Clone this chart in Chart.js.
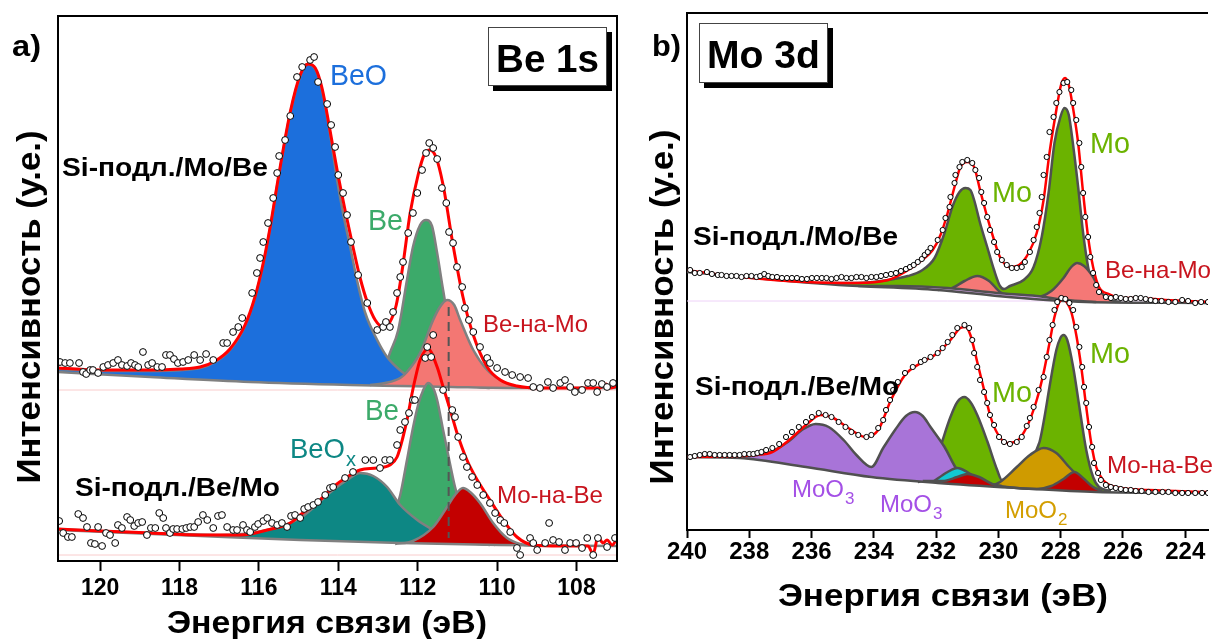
<!DOCTYPE html>
<html>
<head>
<meta charset="utf-8">
<script src="https://cdn.jsdelivr.net/npm/chart.js@4.4.0/dist/chart.umd.min.js"></script>
<style>
  body { margin: 0; background: #fff; }
  canvas { position: absolute; top: 0; }
  #beChart { left: 0; }
  #moChart { left: 640px; }
</style>
</head>
<body>
<canvas id="beChart" width="640" height="639"></canvas>
<canvas id="moChart" width="573" height="639"></canvas>
<script>
const FONT = 'Arial, "Liberation Sans", sans-serif';

// ---------- a) Be 1s : [binding energy eV, intensity a.u.] ----------
const beTicks = [120, 118, 116, 114, 112, 110, 108];

const beTopBg = [[121.06,189],[118.74,184],[116.22,179],[113.70,176],[112.44,175],[111.18,174],[109.42,173],[106.98,173]];
const beTopBeO = [[121.06,192],[120.00,190],[118.74,190],[117.48,193],[117.10,199],[116.73,211],[116.35,235],[116.10,263],[115.89,297],[115.72,332],[115.52,380],[115.21,448],[114.96,485],[114.79,497],[114.58,492],[114.41,471],[114.21,428],[114.03,381],[113.88,348],[113.70,314],[113.53,281],[113.32,248],[113.02,221],[112.77,204],[112.39,189],[112.07,181],[111.69,177],[111.18,174]];
const beTopBe = [[113.20,176],[112.95,180],[112.70,208],[112.49,231],[112.27,281],[112.12,314],[111.94,336],[111.79,341],[111.64,335],[111.51,308],[111.36,271],[111.18,231],[110.98,201],[110.78,183],[110.55,175],[110.18,173]];
const beTopBeMo = [[113.20,176],[112.82,178],[112.44,183],[112.27,189],[111.94,208],[111.61,241],[111.44,254],[111.26,261],[111.08,256],[110.93,241],[110.60,211],[110.25,191],[109.92,181],[109.60,175],[109.17,173]];
const beTopFit = [[121.06,193],[120.00,191],[118.74,191],[117.98,192],[117.48,194],[117.10,200],[116.73,212],[116.35,236],[116.10,264],[115.89,298],[115.72,333],[115.52,381],[115.21,449],[114.96,486],[114.76,497],[114.58,493],[114.41,473],[114.21,431],[114.03,391],[113.83,351],[113.63,314],[113.45,283],[113.27,259],[113.07,241],[112.87,234],[112.70,239],[112.54,256],[112.39,291],[112.19,348],[111.99,386],[111.84,406],[111.69,411],[111.54,404],[111.36,376],[111.11,316],[110.86,264],[110.60,226],[110.25,194],[109.92,181],[109.50,175],[108.92,173],[107.66,173],[107.41,173],[107.25,177],[107.15,173],[106.98,175]];
const beTopPts = [[121.01,199],[120.88,198],[120.76,198],[120.53,198],[120.43,189],[120.35,187],[120.25,191],[120.18,191],[120.05,188],[119.92,194],[119.80,196],[119.67,198],[119.55,201],[119.45,196],[119.32,195],[119.22,198],[119.12,196],[119.04,194],[118.92,209],[118.79,196],[118.69,198],[118.56,194],[118.44,194],[118.34,206],[118.24,206],[118.14,202],[118.04,198],[117.91,199],[117.78,201],[117.63,206],[117.48,201],[117.33,207],[117.15,201],[116.90,218],[116.80,218],[116.65,229],[116.52,234],[116.42,243],[116.17,268],[116.05,288],[115.97,303],[115.89,319],[115.77,338],[115.64,363],[115.54,388],[115.49,405],[115.34,421],[115.21,445],[115.04,484],[114.91,494],[114.71,501],[114.61,504],[114.51,479],[114.28,457],[114.18,436],[114.08,414],[114.00,386],[113.88,368],[113.78,346],[113.68,319],[113.50,286],[113.27,258],[113.02,231],[112.87,234],[112.80,239],[112.70,234],[112.62,249],[112.52,268],[112.44,284],[112.37,299],[112.24,328],[112.12,348],[112.01,368],[111.89,391],[111.79,408],[111.71,418],[111.61,413],[111.51,402],[111.39,373],[111.28,358],[111.21,329],[111.11,318],[111.01,294],[110.88,274],[110.81,253],[110.71,241],[110.60,229],[110.43,214],[110.25,203],[110.18,198],[110.00,193],[109.80,189],[109.62,186],[109.42,184],[109.22,183],[109.09,174],[108.92,173],[108.72,179],[108.59,173],[108.41,178],[108.29,181],[108.16,174],[108.04,169],[107.86,171],[107.71,178],[107.58,178],[107.48,169],[107.36,177],[107.23,174],[107.08,178]];

const beBotBg = [[121.06,31],[117.48,25],[114.96,21],[112.44,18],[109.92,16],[106.98,15]];
const beBotBeOx = [[121.06,32],[118.74,28],[116.98,26],[115.79,31],[114.96,43],[114.13,71],[113.78,81],[113.45,88],[113.12,85],[112.77,74],[112.44,56],[112.01,41],[111.61,31],[111.18,22],[110.68,18],[110.18,16]];
const beBotBe = [[113.20,19],[112.87,26],[112.64,41],[112.44,66],[112.27,101],[112.12,133],[111.99,156],[111.86,171],[111.74,178],[111.61,173],[111.51,161],[111.36,131],[111.18,96],[111.06,74],[110.88,51],[110.68,31],[110.43,21],[110.05,16]];
const beBotMoBe = [[112.57,17],[112.12,20],[111.61,34],[111.26,54],[111.06,66],[110.86,73],[110.68,69],[110.43,58],[110.10,38],[109.75,23],[109.42,17],[109.04,15]];
const beBotFit = [[121.06,32],[120.00,30],[118.74,28],[117.48,26],[116.47,26],[115.79,31],[115.21,38],[114.96,46],[114.46,61],[114.13,74],[113.78,84],[113.45,91],[113.02,93],[112.70,96],[112.52,104],[112.37,124],[112.27,141],[112.14,168],[112.07,181],[111.94,201],[111.74,212],[111.51,194],[111.36,174],[111.18,151],[111.01,128],[110.76,101],[110.50,81],[110.18,61],[109.85,41],[109.50,24],[109.09,16],[108.41,15],[107.71,15],[107.58,7],[107.46,24],[107.33,18],[107.23,21],[107.10,16],[106.98,23]];
const beBotPts = [[121.03,40],[120.93,28],[120.81,24],[120.71,24],[120.55,47],[120.43,43],[120.33,34],[120.23,18],[120.13,17],[120.05,34],[119.95,15],[119.85,28],[119.75,26],[119.62,18],[119.55,36],[119.45,33],[119.32,44],[119.24,41],[119.14,35],[119.04,38],[118.94,39],[118.82,26],[118.72,33],[118.61,33],[118.51,48],[118.41,43],[118.34,33],[118.24,28],[118.16,32],[118.06,32],[117.93,32],[117.83,33],[117.73,34],[117.63,34],[117.53,39],[117.41,46],[117.30,41],[117.15,33],[117.03,45],[116.93,46],[116.80,34],[116.65,31],[116.55,31],[116.40,36],[116.30,31],[116.22,29],[116.10,34],[116.02,37],[115.89,40],[115.79,43],[115.67,38],[115.54,36],[115.42,38],[115.29,34],[115.19,45],[115.09,46],[114.96,43],[114.86,52],[114.76,54],[114.63,56],[114.51,59],[114.33,66],[114.21,73],[114.13,74],[113.83,83],[113.63,89],[113.32,101],[113.12,101],[112.95,93],[112.82,101],[112.70,101],[112.52,116],[112.44,131],[112.32,139],[112.22,148],[112.12,161],[112.07,161],[111.81,203],[111.76,214],[111.66,204],[111.61,226],[111.36,171],[111.13,151],[111.06,144],[110.98,124],[110.86,104],[110.76,94],[110.63,84],[110.50,76],[110.35,66],[110.18,58],[110.05,48],[109.92,41],[109.82,38],[109.67,29],[109.50,13],[109.42,6],[109.17,23],[109.09,18],[108.99,11],[108.79,18],[108.69,38],[108.59,21],[108.44,19],[108.29,11],[108.16,18],[108.01,18],[107.86,13],[107.73,23],[107.58,6],[107.46,23],[107.23,14],[107.03,23]];

const beDash = [[111.22,254],[111.22,23]];
const beZero = [171, 6];

// ---------- b) Mo 3d ----------
const moTicks = [240, 238, 236, 234, 232, 230, 228, 226, 224];

const moTopBg = [[240.00,258],[235.13,245],[231.95,240],[230.04,234],[228.45,230],[227.18,228],[223.27,227]];
const moTopLilac = [[234.50,244],[233.23,244],[231.63,242],[230.04,237],[228.77,234],[227.82,230],[226.86,228]];
const moTopMo = [[235.77,247],[234.50,247],[233.54,250],[232.91,254],[232.49,259],[232.05,272],[231.73,297],[231.48,323],[231.25,338],[231.06,342],[230.90,340],[230.78,330],[230.59,307],[230.36,283],[230.14,260],[229.95,244],[229.82,241],[229.63,244],[229.19,250],[228.87,263],[228.61,293],[228.39,337],[228.20,387],[228.01,413],[227.88,422],[227.74,415],[227.61,387],[227.44,343],[227.28,297],[227.12,263],[226.96,243],[226.64,233],[226.23,228]];
const moTopBeMo = [[231.95,240],[231.48,242],[231.09,249],[230.68,254],[230.30,249],[229.95,238],[229.73,235],[228.77,233],[228.30,239],[227.91,252],[227.66,263],[227.47,267],[227.25,264],[226.96,253],[226.71,238],[226.39,230],[226.07,228]];
const moTopFit = [[240.00,260],[239.59,258],[238.31,253],[236.18,248],[234.59,247],[233.54,250],[233.00,258],[232.49,269],[232.11,280],[231.86,295],[231.63,317],[231.41,343],[231.22,363],[231.00,368],[230.78,363],[230.59,340],[230.36,313],[230.14,290],[229.95,273],[229.63,263],[229.34,265],[229.03,277],[228.77,297],[228.55,330],[228.36,377],[228.14,420],[227.99,445],[227.86,452],[227.74,445],[227.61,423],[227.44,387],[227.28,337],[227.12,293],[226.96,263],[226.77,243],[226.45,236],[226.01,232],[225.59,232],[224.64,230],[223.27,228]];
const moTopPts = [[239.90,260],[239.75,257],[239.59,257],[239.36,258],[239.20,256],[239.01,255],[238.89,255],[238.73,254],[238.57,254],[238.41,254],[238.25,253],[238.09,254],[237.93,254],[237.77,253],[237.65,254],[237.52,256],[237.39,254],[237.26,253],[237.11,253],[236.95,252],[236.79,252],[236.63,252],[236.47,252],[236.31,251],[236.15,251],[235.99,252],[235.83,252],[235.67,252],[235.52,252],[235.36,251],[235.20,252],[235.04,253],[234.88,252],[234.72,252],[234.56,253],[234.40,253],[234.24,252],[234.08,253],[233.92,253],[233.77,254],[233.61,255],[233.45,256],[233.29,257],[233.13,259],[232.97,261],[232.84,263],[232.72,265],[232.59,268],[232.46,271],[232.37,275],[232.27,278],[232.18,282],[231.95,290],[231.79,300],[231.70,312],[231.57,323],[231.54,333],[231.41,347],[231.38,355],[231.25,363],[231.16,368],[231.00,370],[230.84,367],[230.74,360],[230.62,352],[230.55,338],[230.46,327],[230.36,313],[230.27,300],[230.14,288],[230.04,278],[229.89,270],[229.73,265],[229.57,262],[229.41,262],[229.25,263],[229.15,268],[228.99,278],[228.87,290],[228.77,303],[228.68,317],[228.61,333],[228.55,355],[228.45,373],[228.36,398],[228.23,413],[228.14,427],[228.04,438],[227.91,447],[227.79,448],[227.66,440],[227.60,427],[227.50,410],[227.40,387],[227.34,363],[227.28,337],[227.21,313],[227.12,293],[227.05,273],[226.96,257],[226.86,245],[226.77,238],[226.55,233],[226.39,232],[226.23,233],[226.07,232],[225.91,231],[225.75,231],[225.59,232],[225.43,232],[225.27,231],[225.11,230],[224.96,229],[224.76,229],[224.54,228],[224.32,228],[224.10,230],[223.91,229],[223.68,227],[223.49,228],[223.27,228]];

const moBotBg = [[240.00,73],[238.31,72],[236.18,63],[234.08,53],[231.95,47],[229.41,42],[226.86,38],[223.27,37]];
const moBotMoO3 = [[238.31,73],[237.77,75],[237.26,79],[236.72,89],[236.31,100],[235.87,106],[235.45,103],[234.97,90],[234.56,75],[234.08,63],[233.70,82],[233.32,100],[232.97,114],[232.68,118],[232.43,114],[232.18,103],[231.73,83],[231.32,60],[230.90,52],[230.36,46],[229.89,44]];
const moBotMo = [[232.75,49],[232.27,58],[231.95,74],[231.79,90],[231.54,113],[231.32,128],[231.09,133],[230.90,128],[230.68,115],[230.36,89],[230.04,60],[229.89,50],[229.66,52],[229.41,57],[228.99,70],[228.68,88],[228.52,113],[228.36,143],[228.14,180],[228.01,192],[227.91,195],[227.79,190],[227.60,163],[227.40,123],[227.18,80],[226.96,53],[226.77,43],[226.39,39]];
const moBotMoO2 = [[232.59,48],[232.11,52],[231.63,58],[231.32,58],[230.94,52],[230.52,47],[230.20,45],[229.95,48],[229.41,63],[228.99,75],[228.55,82],[228.14,77],[227.73,63],[227.44,54],[227.12,45],[226.77,40]];
const moBotCyan = [[232.11,48],[231.63,58],[231.32,62],[231.00,58],[230.52,48],[230.20,44]];
const moBotMoBe = [[232.43,49],[231.79,49],[231.32,53],[231.00,56],[230.62,53],[230.20,46],[229.73,43],[228.77,41],[228.30,44],[227.91,51],[227.56,58],[227.25,51],[226.96,43],[226.64,38]];
const moBotFit = [[240.00,73],[238.31,74],[237.77,75],[237.26,78],[236.72,90],[236.18,105],[235.71,115],[235.36,113],[234.82,102],[234.27,93],[233.86,100],[233.45,130],[233.00,155],[232.49,167],[231.95,177],[231.54,190],[231.22,202],[231.06,203],[230.90,195],[230.68,168],[230.46,140],[230.27,115],[230.04,97],[229.73,87],[229.41,89],[229.09,103],[228.77,130],[228.55,157],[228.36,187],[228.20,213],[228.04,228],[227.91,231],[227.79,227],[227.66,218],[227.50,195],[227.34,163],[227.18,123],[227.02,87],[226.86,63],[226.64,50],[226.23,43],[225.18,40],[223.27,38]];
const moBotPts = [[239.90,73],[239.75,74],[239.59,75],[239.43,76],[239.27,76],[239.11,75],[238.95,75],[238.79,75],[238.63,75],[238.47,75],[238.31,75],[238.16,76],[238.00,76],[237.87,76],[237.74,77],[237.61,78],[237.46,80],[237.26,82],[237.04,86],[236.82,93],[236.63,98],[236.41,103],[236.18,108],[235.99,113],[235.77,117],[235.55,115],[235.36,113],[235.13,108],[234.91,103],[234.72,98],[234.50,95],[234.24,93],[234.08,95],[233.86,102],[233.70,110],[233.61,120],[233.48,130],[233.38,140],[233.23,148],[233.00,157],[232.75,163],[232.49,168],[232.37,170],[232.18,173],[231.95,177],[231.79,182],[231.63,188],[231.48,195],[231.32,202],[231.09,205],[230.94,202],[230.84,190],[230.78,177],[230.68,163],[230.59,150],[230.46,138],[230.36,127],[230.27,115],[230.14,105],[229.98,93],[229.82,88],[229.63,86],[229.41,88],[229.25,93],[229.09,104],[228.99,112],[228.87,123],[228.71,140],[228.55,153],[228.45,173],[228.36,190],[228.26,205],[228.20,220],[228.11,228],[227.98,232],[227.85,231],[227.72,227],[227.60,220],[227.50,203],[227.40,183],[227.31,163],[227.25,143],[227.18,127],[227.09,103],[226.99,83],[226.93,67],[226.80,57],[226.71,50],[226.55,45],[226.39,43],[226.23,42],[226.07,41],[225.91,40],[225.75,40],[225.59,39],[225.40,39],[225.18,38],[224.96,38],[224.73,38],[224.54,38],[224.32,37],[224.10,37],[223.91,37],[223.68,37],[223.46,37],[223.27,37]];

const moZero = [229];

// ---------- helpers ----------
const pts = a => a.map(([x, y]) => ({ x, y }));

function area(data, color, base, edge) {
  return { data: pts(data), fill: base, backgroundColor: color, borderColor: edge, borderWidth: 2.5,
           pointRadius: 0, cubicInterpolationMode: 'monotone' };
}
function curve(data, color, width) {
  return { data: pts(data), fill: false, borderColor: color, borderWidth: width, pointRadius: 0,
           cubicInterpolationMode: 'monotone' };
}
function marks(data, r) {
  return { data: pts(data), showLine: false, pointRadius: r, pointBackgroundColor: '#fff',
           pointBorderColor: '#000', pointBorderWidth: 1 };
}
function hline(v, lo, hi, color) {
  return { data: [{ x: lo, y: v }, { x: hi, y: v }], fill: false, borderColor: color, borderWidth: 1,
           pointRadius: 0, tension: 0 };
}

function txt(ctx, s, x, y, o) {
  ctx.save();
  ctx.font = (o.bold ? 'bold ' : '') + o.size + 'px ' + FONT;
  ctx.fillStyle = o.color || '#000';
  ctx.textBaseline = 'alphabetic';
  ctx.textAlign = o.align || 'left';
  ctx.translate(x, y);
  if (o.rot) ctx.rotate(o.rot);
  let k = 1;
  if (o.w) { k = o.w / ctx.measureText(s).width; ctx.scale(k, 1); }
  ctx.fillText(s, 0, 0);
  const end = ctx.measureText(s).width * k;
  ctx.restore();
  if (o.sub) txt(ctx, o.sub, x + end + 1, y + o.size * 0.28, { size: Math.round(o.size * 0.72), color: o.color });
}

function titleBox(ctx, x, y, w, h, s, size, tw, base) {
  ctx.save();
  ctx.fillStyle = '#000';
  ctx.fillRect(x + 5, y + 5, w, h);
  ctx.fillStyle = '#fff';
  ctx.fillRect(x, y, w, h);
  ctx.strokeStyle = '#444';
  ctx.lineWidth = 1;
  ctx.strokeRect(x + 0.5, y + 0.5, w - 1, h - 1);
  ctx.restore();
  txt(ctx, s, x + w / 2, base, { size, bold: true, align: 'center', w: tw });
}

function makeChart(id, cfg) {
  const ds = cfg.datasets.map((d, i) => Object.assign(d, { order: -i }));
  return new Chart(document.getElementById(id), {
    type: 'line',
    data: { datasets: ds },
    options: {
      responsive: false,
      animation: false,
      devicePixelRatio: 1,
      events: [],
      layout: { padding: cfg.padding },
      plugins: { legend: { display: false }, tooltip: { enabled: false } },
      scales: {
        x: {
          type: 'linear', reverse: true, min: cfg.xmin, max: cfg.xmax,
          afterBuildTicks: s => { s.ticks = cfg.ticks.map(v => ({ value: v })); },
          afterFit: s => { s.height = cfg.xh; },
          ticks: { color: '#000', padding: cfg.tickPad, maxRotation: 0, autoSkip: false,
                   font: { family: FONT, size: cfg.tickSize, weight: 'bold' } },
          grid: { display: true, drawOnChartArea: false, drawTicks: true, tickLength: cfg.tickLen,
                  tickWidth: 2, tickColor: '#000' },
          border: { display: true, color: '#000', width: 2 }
        },
        y: {
          min: 0, max: cfg.ymax,
          afterFit: s => { s.width = cfg.yw; },
          ticks: { display: false },
          grid: { display: false },
          border: { display: true, color: '#000', width: 2 }
        }
      }
    },
    plugins: [{ id: 'deco', afterDraw: c => cfg.deco(c.ctx, c.chartArea) }]
  });
}

// ---------- panel a ----------
const beEdge = '#808080';
makeChart('beChart', {
  xmin: 106.98, xmax: 121.06, ymax: 545, ticks: beTicks,
  padding: { left: 0, top: 16, right: 23, bottom: 0 },
  xh: 78, yw: 58, tickSize: 23, tickLen: 10, tickPad: 4,
  datasets: [
    hline(beZero[0], 106.98, 121.06, '#f9cccc'),
    hline(beZero[1], 106.98, 121.06, '#f9cccc'),
    area(beTopBe, '#3caa6a', 5, beEdge),
    area(beTopBeO, '#1c6fdc', 5, beEdge),
    area(beTopBeMo, '#f37773', 5, beEdge),
    curve(beTopBg, beEdge, 2.5),
    area(beBotBe, '#3caa6a', 9, beEdge),
    area(beBotBeOx, '#0d8784', 9, beEdge),
    area(beBotMoBe, '#c30000', 9, beEdge),
    curve(beBotBg, beEdge, 2.5),
    Object.assign(curve(beDash, '#555', 2), { borderDash: [9, 6], cubicInterpolationMode: 'default', tension: 0 }),
    curve(beTopFit, '#ff0000', 3),
    curve(beBotFit, '#ff0000', 3),
    marks(beTopPts, 3.4),
    marks(beBotPts, 3.4)
  ],
  deco: (ctx, a) => {
    ctx.save();
    ctx.strokeStyle = '#000';
    ctx.lineWidth = 2;
    ctx.strokeRect(a.left, a.top, a.right - a.left, a.bottom - a.top);
    ctx.restore();
    titleBox(ctx, 488, 27, 119, 59, 'Be 1s', 38, 103, 72);
    txt(ctx, 'a)', 12, 56, { size: 30, bold: true, w: 29 });
    txt(ctx, 'BeO', 330, 85, { size: 29, color: '#1c6fdc', w: 57 });
    txt(ctx, 'Si-подл./Mo/Be', 62, 176, { size: 25, bold: true, w: 206 });
    txt(ctx, 'Be', 368, 230, { size: 29, color: '#3caa6a', w: 35 });
    txt(ctx, 'Be-на-Mo', 483, 332, { size: 24, color: '#c8141e', w: 105 });
    txt(ctx, 'Be', 365, 420, { size: 29, color: '#3caa6a', w: 34 });
    txt(ctx, 'BeO', 290, 458, { size: 28, color: '#0d8784', w: 55, sub: 'x' });
    txt(ctx, 'Si-подл./Be/Mo', 75, 496, { size: 25, bold: true, w: 205 });
    txt(ctx, 'Mo-на-Be', 497, 503, { size: 24, color: '#c8141e', w: 106 });
    txt(ctx, 'Интенсивность (у.е.)', 40, 307, { size: 33, bold: true, align: 'center', rot: -Math.PI / 2, w: 353 });
    txt(ctx, 'Энергия связи (эВ)', 327, 633, { size: 32, bold: true, align: 'center', w: 320 });
  }
});

// ---------- panel b ----------
const moEdge = '#505050';
makeChart('moChart', {
  xmin: 223.27, xmax: 240, ymax: 517, ticks: moTicks,
  padding: { left: 0, top: 13, right: 0, bottom: 0 },
  xh: 109, yw: 47, tickSize: 24, tickLen: 8, tickPad: 0,
  datasets: [
    hline(moZero[0], 223.27, 240, '#eed2f8'),
    area(moTopMo, '#6bb300', 4, moEdge),
    area(moTopBeMo, '#f57876', 4, moEdge),
    area(moTopLilac, '#deaaf5', 4, moEdge),
    curve(moTopBg, moEdge, 2.5),
    area(moBotMo, '#6bb300', 10, moEdge),
    area(moBotMoO2, '#cf9b00', 10, moEdge),
    area(moBotMoO3, '#a874d8', 10, moEdge),
    area(moBotCyan, '#12c8d2', 10, moEdge),
    area(moBotMoBe, '#c30000', 10, moEdge),
    curve(moBotBg, moEdge, 2.5),
    curve(moTopFit, '#ff0000', 2.5),
    curve(moBotFit, '#ff0000', 2.5),
    marks(moTopPts, 2.6),
    marks(moBotPts, 2.6)
  ],
  deco: (ctx, a) => {
    ctx.save();
    ctx.strokeStyle = '#000';
    ctx.lineWidth = 2;
    ctx.beginPath();
    ctx.moveTo(a.left, a.top);
    ctx.lineTo(a.right, a.top);
    ctx.stroke();
    ctx.restore();
    titleBox(ctx, 59, 23, 129, 60, 'Mo 3d', 39, 113, 68);
    txt(ctx, 'b)', 12, 56, { size: 30, bold: true, w: 29 });
    txt(ctx, 'Si-подл./Mo/Be', 53, 245, { size: 25, bold: true, w: 205 });
    txt(ctx, 'Mo', 352, 202, { size: 29, color: '#6bb300', w: 40 });
    txt(ctx, 'Mo', 450, 153, { size: 29, color: '#6bb300', w: 40 });
    txt(ctx, 'Be-на-Mo', 465, 278, { size: 24, color: '#c8141e', w: 106 });
    txt(ctx, 'Si-подл./Be/Mo', 55, 395, { size: 25, bold: true, w: 204 });
    txt(ctx, 'Mo', 352, 402, { size: 29, color: '#6bb300', w: 40 });
    txt(ctx, 'Mo', 450, 363, { size: 29, color: '#6bb300', w: 40 });
    txt(ctx, 'Mo-на-Be', 467, 473, { size: 24, color: '#c8141e', w: 106 });
    txt(ctx, 'MoO', 152, 497, { size: 24, color: '#a450e6', sub: '3' });
    txt(ctx, 'MoO', 240, 512, { size: 24, color: '#a450e6', sub: '3' });
    txt(ctx, 'MoO', 365, 518, { size: 24, color: '#d39e00', sub: '2' });
    txt(ctx, 'Интенсивность (у.е.)', 33, 307, { size: 33, bold: true, align: 'center', rot: -Math.PI / 2, w: 355 });
    txt(ctx, 'Энергия связи (эВ)', 303, 606, { size: 32, bold: true, align: 'center', w: 330 });
  }
});
</script>
</body>
</html>
